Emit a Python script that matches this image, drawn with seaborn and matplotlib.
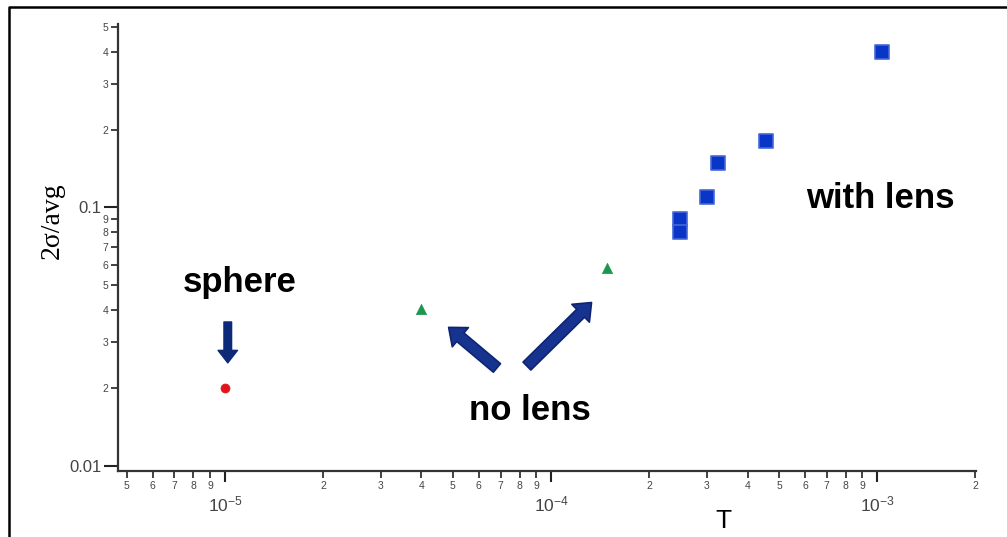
import numpy as np
import pandas as pd
import matplotlib
matplotlib.use("Agg")
import matplotlib.pyplot as plt
import seaborn as sns
from matplotlib.lines import Line2D
from matplotlib.ticker import FixedLocator, FixedFormatter

# data
sphere_T = [1.0e-5]
sphere_v = [0.020]

nolens_T = [4.0e-5, 1.48e-4]
nolens_v = [0.0404, 0.058]

lens_T = [2.49e-4, 2.49e-4, 3.0e-4, 3.25e-4, 4.55e-4, 1.035e-3]
lens_v = [0.090, 0.080, 0.110, 0.149, 0.180, 0.400]

# tick labels
x_major = [1e-5, 1e-4, 1e-3]
x_major_labels = ["$10^{-5}$", "$10^{-4}$", "$10^{-3}$"]
x_minor = [5e-6, 6e-6, 7e-6, 8e-6, 9e-6,
           2e-5, 3e-5, 4e-5, 5e-5, 6e-5, 7e-5, 8e-5, 9e-5,
           2e-4, 3e-4, 4e-4, 5e-4, 6e-4, 7e-4, 8e-4, 9e-4, 2e-3]
x_minor_labels = ["5", "6", "7", "8", "9",
                  "2", "3", "4", "5", "6", "7", "8", "9",
                  "2", "3", "4", "5", "6", "7", "8", "9", "2"]
y_major = [0.01, 0.1]
y_major_labels = ["0.01", "0.1"]
y_minor = [0.02, 0.03, 0.04, 0.05, 0.06, 0.07, 0.08, 0.09, 0.2, 0.3, 0.4, 0.5]
y_minor_labels = ["2", "3", "4", "5", "6", "7", "8", "9", "2", "3", "4", "5"]

sns.set_theme(style="ticks")
plt.rcParams['font.family'] = ['Liberation Sans', 'DejaVu Sans']
plt.rcParams['mathtext.default'] = 'regular'
plt.rcParams['text.color'] = 'black'

fig = plt.figure(figsize=(10.07, 5.37), dpi=100)
fig.patch.set_facecolor("white")
ax = fig.add_axes([0.1175, 0.1229, 0.9692 - 0.1175, 0.9553 - 0.1229])

df_sphere = pd.DataFrame({"T": sphere_T, "v": sphere_v})
df_nolens = pd.DataFrame({"T": nolens_T, "v": nolens_v})
df_lens = pd.DataFrame({"T": lens_T, "v": lens_v})

sns.scatterplot(data=df_sphere, x="T", y="v", ax=ax, color="#e3131b",
                marker="o", s=42, edgecolor="#e3131b", linewidth=0.5, zorder=3)
sns.scatterplot(data=df_nolens, x="T", y="v", ax=ax, color="#1d9650",
                marker="^", s=55, edgecolor="#1d9650", linewidth=0.5, zorder=3)
sns.scatterplot(data=df_lens, x="T", y="v", ax=ax, color="#0a36c8",
                marker="s", s=110, edgecolor="#4468d8", linewidth=1.2, zorder=3)

ax.set_xscale("log")
ax.set_yscale("log")
ax.set_xlim(4.71e-6, 2.007e-3)
ax.set_ylim(0.00954, 0.512)

ax.xaxis.set_major_locator(FixedLocator(x_major))
ax.xaxis.set_major_formatter(FixedFormatter(x_major_labels))
ax.xaxis.set_minor_locator(FixedLocator(x_minor))
ax.xaxis.set_minor_formatter(FixedFormatter(x_minor_labels))
ax.yaxis.set_major_locator(FixedLocator(y_major))
ax.yaxis.set_major_formatter(FixedFormatter(y_major_labels))
ax.yaxis.set_minor_locator(FixedLocator(y_minor))
ax.yaxis.set_minor_formatter(FixedFormatter(y_minor_labels))

ax.tick_params(axis="x", which="major", length=8, width=1.5, labelsize=12.5,
               pad=9, colors="#222222", labelcolor="#444444")
ax.tick_params(axis="x", which="minor", length=5, width=1.2, labelsize=7.5,
               pad=2, colors="#222222", labelcolor="#444444")
ax.tick_params(axis="y", which="major", length=10, width=1.5, labelsize=12,
               pad=2, colors="#222222", labelcolor="#444444")
ax.tick_params(axis="y", which="minor", length=5, width=1.2, labelsize=7.5,
               pad=2, colors="#222222", labelcolor="#444444")

for side in ["top", "right"]:
    ax.spines[side].set_visible(False)
for side in ["left", "bottom"]:
    ax.spines[side].set_color("#333333")
    ax.spines[side].set_linewidth(1.6)

ax.set_xlabel("T", fontsize=19, color="black")
ax.xaxis.set_label_coords(0.706, -0.085)
ax.set_ylabel("2σ/avg", fontsize=20, color="black",
              family=["Liberation Serif", "DejaVu Serif"])
ax.yaxis.set_label_coords(-0.062, 0.56)

# annotations
ax.text(1.11e-5, 0.0513, "sphere", fontsize=25, fontweight="bold",
        ha="center", va="center", color="black")
ax.text(8.6e-5, 0.0164, "no lens", fontsize=25, fontweight="bold",
        ha="center", va="center", color="black")
ax.text(1.02e-3, 0.1084, "with lens", fontsize=25, fontweight="bold",
        ha="center", va="center", color="black")

ax.annotate("", xy=(1.02e-5, 0.0250), xytext=(1.02e-5, 0.0360),
            arrowprops=dict(arrowstyle="simple,head_length=9,head_width=14,tail_width=5.5",
                            mutation_scale=1, color="#0c2a78", shrinkA=0, shrinkB=0))
fat = dict(arrowstyle="simple,head_length=11,head_width=18,tail_width=8",
           mutation_scale=1, facecolor="#16348f", edgecolor="#0f2470",
           linewidth=1.2, shrinkA=0, shrinkB=0)
ax.annotate("", xy=(4.85e-5, 0.0343), xytext=(6.82e-5, 0.0239), arrowprops=fat)
ax.annotate("", xy=(1.33e-4, 0.0428), xytext=(8.43e-5, 0.0243), arrowprops=fat)

# outer frame (left and top edges)
x0 = 9 / 1007
y0 = 1 - 7 / 537
fig.add_artist(Line2D([x0, x0, 1.0], [0.0, y0, y0], transform=fig.transFigure,
                      color="black", linewidth=1.8))

fig.savefig("out.png", dpi=100, facecolor="white")
